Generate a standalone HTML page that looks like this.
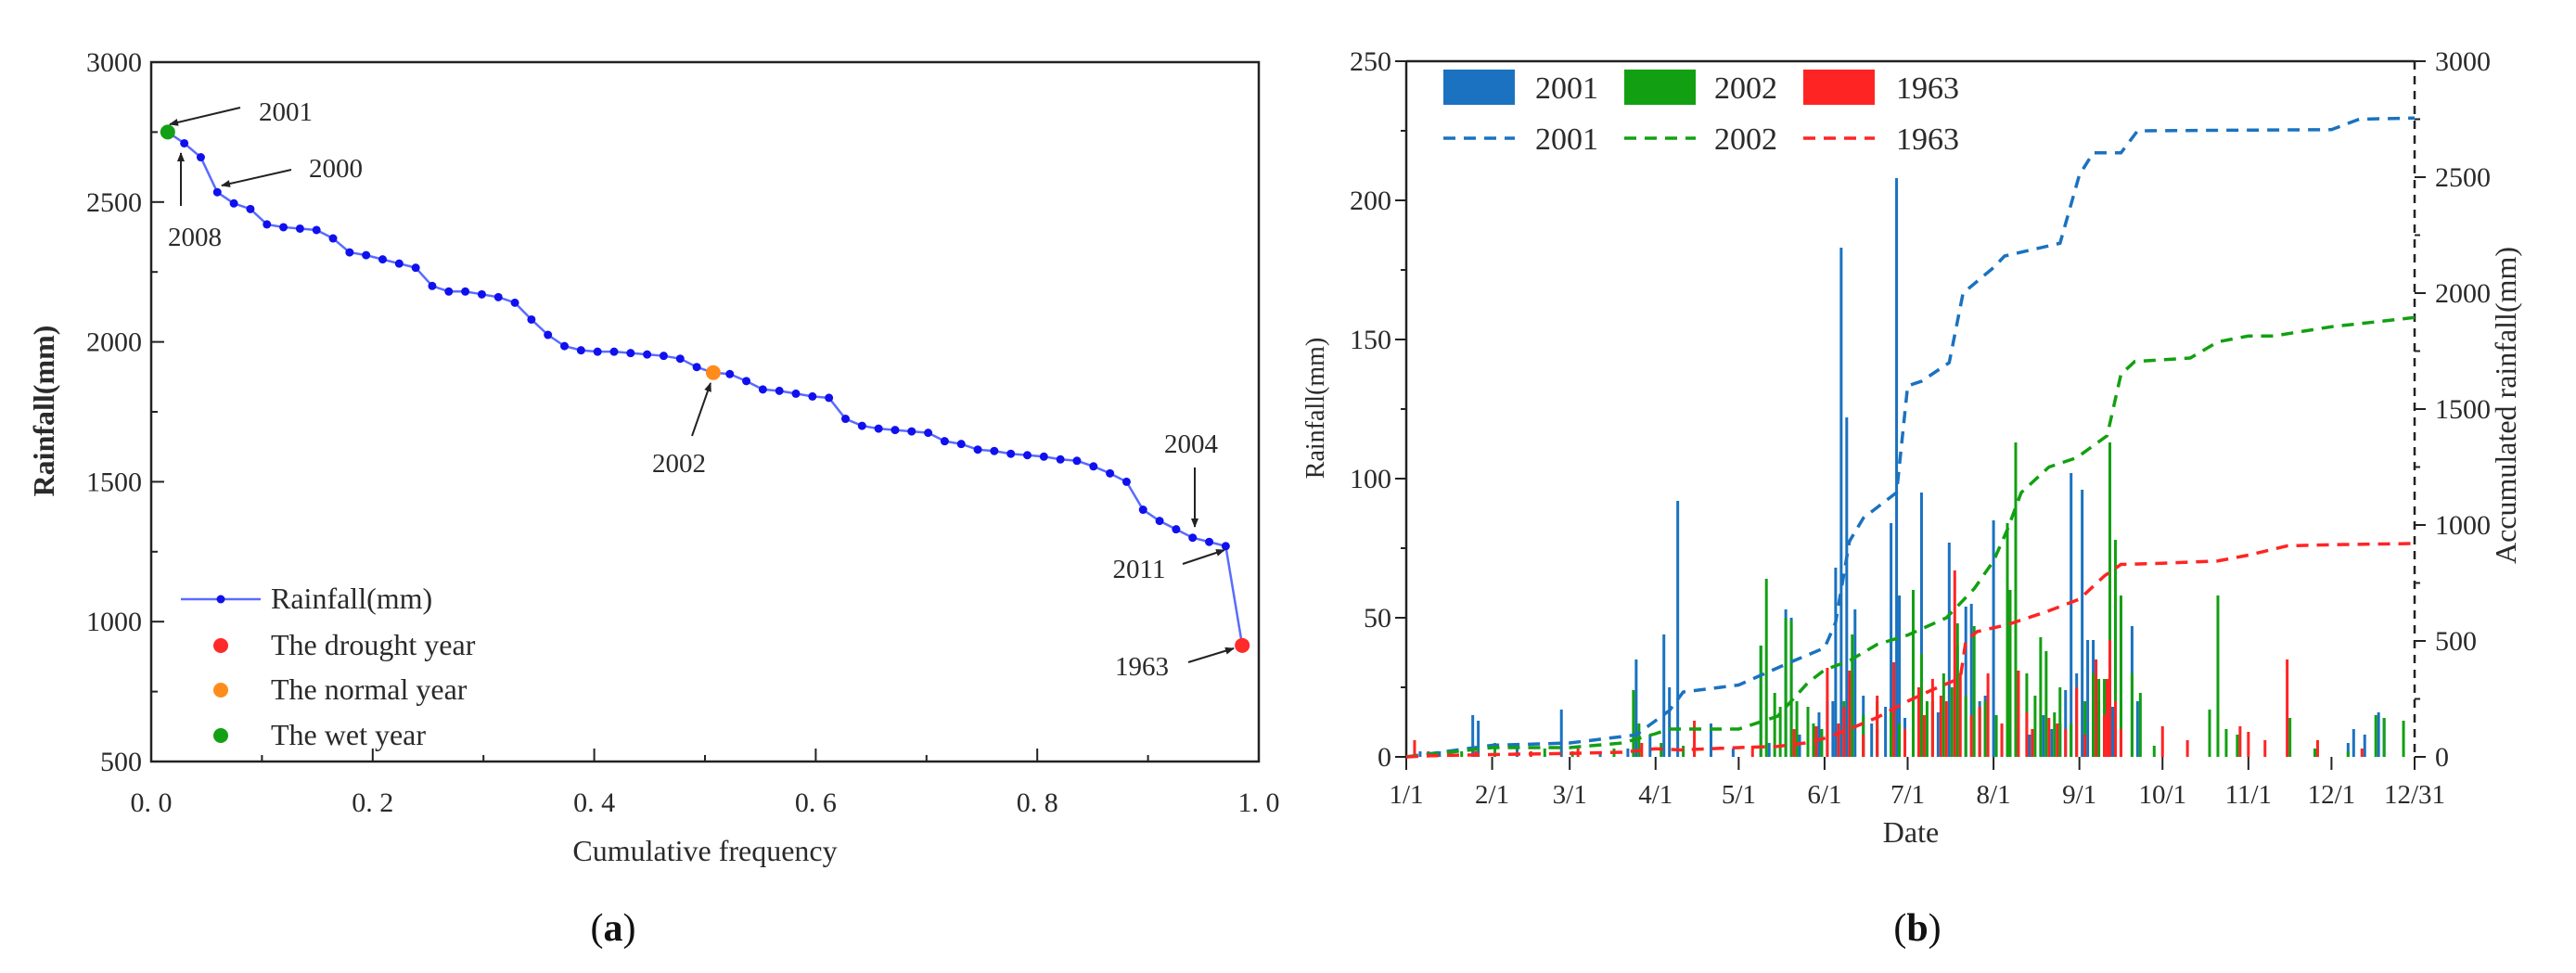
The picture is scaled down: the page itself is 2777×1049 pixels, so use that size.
<!DOCTYPE html>
<html><head><meta charset="utf-8">
<style>
html,body{margin:0;padding:0;background:#fff;}
svg{display:block;font-family:"Liberation Serif",serif;}
</style></head>
<body>
<svg id="root" width="2777" height="1049" viewBox="0 0 2777 1049">
<g id="pa"></g>
<g id="pb"></g>
</svg>
<script>
// ---------- Panel (a) data ----------
const aValues = [2750,2710,2660,2535,2495,2475,2420,2410,2405,2400,2370,2320,2310,2295,2280,2265,2200,2180,2180,2170,2160,2140,2080,2025,1985,1970,1965,1965,1960,1955,1950,1940,1910,1890,1885,1860,1830,1825,1815,1805,1800,1725,1700,1690,1685,1680,1675,1645,1635,1615,1610,1600,1595,1590,1580,1575,1555,1530,1500,1400,1360,1330,1300,1285,1270,915];
const aYTicks = [500,1000,1500,2000,2500,3000];
const aXTicks = [0,0.2,0.4,0.6,0.8,1.0];
const aXTickLabels = ["0. 0","0. 2","0. 4","0. 6","0. 8","1. 0"];
const aSpecial = [{idx:0,color:"#14a014"},{idx:33,color:"#ff8c1a"},{idx:65,color:"#ff2a2a"}];
const aAnnot = [
 {label:"2001",tx:308,ty:130,x1:259,y1:116,x2:183,y2:134},
 {label:"2008",tx:210,ty:265,x1:195,y1:222,x2:195,y2:165},
 {label:"2000",tx:362,ty:191,x1:314,y1:183,x2:239,y2:200},
 {label:"2002",tx:732,ty:509,x1:746,y1:470,x2:766,y2:413},
 {label:"2004",tx:1284,ty:488,x1:1288,y1:504,x2:1288,y2:568},
 {label:"2011",tx:1228,ty:623,x1:1275,y1:608,x2:1320,y2:593},
 {label:"1963",tx:1231,ty:728,x1:1281,y1:714,x2:1330,y2:699}
];

// ---------- Panel (b) data ----------
const monthDays = [0,31,59,90,120,151,181,212,243,273,304,334,364];
const monthLabels = ["1/1","2/1","3/1","4/1","5/1","6/1","7/1","8/1","9/1","10/1","11/1","12/1","12/31"];
const bLeftTicks = [0,50,100,150,200,250];
const bRightTicks = [0,500,1000,1500,2000,2500,3000];
const days2001 = [5,12,24,26,40,56,70,80,83,88,93,95,98,104,110,118,128,131,137,139,142,149,152,155,157,159,160,162,165,170,175,177,178,183,186,190,196,199,202,204,207,212,215,220,225,230,236,240,242,244,246,248,250,255,258,262,264,340,342,346,351,353,154,168,173,180,192,209,218,233,238];
const vals2001 = [2,2,15,13,3,17,2,3,35,8,44,25,92,4,12,3,40,5,53,50,8,16,20,68,183,122,30,53,22,10,84,208,58,42,95,20,77,40,54,55,20,85,12,10,8,15,12,102,30,96,42,42,20,18,20,47,20,5,10,8,16,14,20,12,18,14,16,22,10,10,24];
const days2002 = [20,32,50,60,75,82,84,92,100,128,130,133,137,139,141,145,150,158,161,165,170,178,183,186,190,194,199,202,205,209,213,217,218,220,224,229,231,236,240,245,248,252,254,256,258,262,265,270,290,293,296,300,319,328,340,350,353,360,135,147,175,188,197,207,227,234,250];
const vals2002 = [2,5,3,2,3,24,12,5,4,40,64,23,50,49,20,18,10,20,44,15,20,12,60,37,20,30,48,22,47,20,15,84,60,113,30,43,38,25,12,20,30,28,113,78,58,30,23,4,17,58,10,8,14,3,2,15,14,13,18,12,16,20,25,18,22,16,28];
const days1963 = [3,8,25,45,62,85,104,125,140,148,152,156,160,165,170,176,180,185,190,195,198,200,204,210,215,221,226,232,238,242,245,249,252,254,256,258,273,282,301,304,310,318,329,345,158,187,193,207,224,235,253];
const vals1963 = [6,2,2,2,3,5,13,4,10,11,32,12,31,8,22,34,10,25,28,20,67,30,15,30,12,31,10,14,10,25,8,35,15,42,20,10,11,6,11,9,6,35,6,3,18,15,22,18,16,12,28];
const cumDays2001 = [0,31,59,83,95,100,120,140,151,155,160,165,177,181,186,196,201,212,216,236,243,248,258,264,334,344,364];
const cumVals2001 = [0,50,60,95,200,280,310,415,470,580,930,1030,1140,1600,1620,1700,2000,2110,2160,2215,2510,2605,2605,2700,2705,2750,2755];
const cumDays2002 = [0,31,59,78,90,95,120,134,145,151,160,170,181,195,205,212,217,222,232,242,253,258,263,283,293,304,313,334,353,364];
const cumVals2002 = [0,40,40,60,100,120,120,175,320,375,415,485,525,600,725,845,980,1140,1250,1290,1385,1650,1705,1720,1790,1815,1815,1855,1880,1895];
const cumDays1963 = [0,9,31,59,78,90,99,120,134,144,151,160,170,181,190,200,202,206,217,232,243,252,258,273,293,304,318,334,364];
const cumVals1963 = [0,5,10,15,20,35,30,40,45,60,80,120,170,240,290,340,500,540,570,630,680,780,830,835,845,870,910,915,920];

const NS="http://www.w3.org/2000/svg";
function mk(parent,tag,attrs,text){
  const e=document.createElementNS(NS,tag);
  for(const k in attrs)e.setAttribute(k,attrs[k]);
  if(text!==undefined)e.textContent=text;
  parent.appendChild(e);return e;
}
const TXT="#2a2a2a";

// ================= Panel A =================
const pa=document.getElementById('pa');
const aL=163,aR=1357,aT=67,aB=821;
const ax=v=>aL+(aR-aL)*v;
const ay=v=>aB-(aB-aT)*(v-500)/2500;
let e;
e=mk(pa,'rect',{x:aL,y:aT,width:aR-aL,height:aB-aT,fill:'none',stroke:'#222','stroke-width':2.5});


for(let v=500;v<=3000;v+=250){
  const maj=(v%500===0);
  e=mk(pa,'line',{x1:aL,x2:aL+(maj?14:7),y1:ay(v),y2:ay(v),stroke:'#222','stroke-width':2});
  
  
}
aYTicks.forEach(v=>{
  e=mk(pa,'text',{x:aL-10,y:ay(v)+10,'text-anchor':'end','font-size':30,fill:TXT},String(v));
  
  
});
for(let i=0;i<=10;i++){
  const v=i/10;const maj=(i%2===0);
  e=mk(pa,'line',{x1:ax(v),x2:ax(v),y1:aB,y2:aB-(maj?14:7),stroke:'#222','stroke-width':2});
  
  
}
aXTicks.forEach((v,i)=>{
  e=mk(pa,'text',{x:ax(v),y:875,'text-anchor':'middle','font-size':30,fill:TXT},aXTickLabels[i]);
  
  
});
e=mk(pa,'text',{x:760,y:928,'text-anchor':'middle','font-size':32,fill:TXT},'Cumulative frequency');


e=mk(pa,'text',{x:0,y:0,'text-anchor':'middle','font-size':32,'font-weight':'bold',fill:TXT,transform:'translate(58,443) rotate(-90)'},'Rainfall(mm)');


const n=aValues.length;
const pts=aValues.map((v,i)=>ax((i+1)/(n+1))+','+ay(v)).join(' ');
e=mk(pa,'polyline',{points:pts,fill:'none',stroke:'#5a6bff','stroke-width':2.5});


aValues.forEach((v,i)=>{
  e=mk(pa,'circle',{cx:ax((i+1)/(n+1)),cy:ay(v),r:4.5,fill:'#1010ee'});
  
  
});
aSpecial.forEach(s=>{
  e=mk(pa,'circle',{cx:ax((s.idx+1)/(n+1)),cy:ay(aValues[s.idx]),r:8,fill:s.color});
  
  
});
const defs=mk(document.getElementById('root'),'defs',{});
const mkr=mk(defs,'marker',{id:'arr',markerWidth:10,markerHeight:8,refX:9,refY:4,orient:'auto',markerUnits:'userSpaceOnUse'});
mk(mkr,'path',{d:'M0,0 L10,4 L0,8 Z',fill:'#222'});
aAnnot.forEach(a=>{
  e=mk(pa,'line',{x1:a.x1,y1:a.y1,x2:a.x2,y2:a.y2,stroke:'#222','stroke-width':2,'marker-end':'url(#arr)'});
  
  
  e=mk(pa,'text',{x:a.tx,y:a.ty,'text-anchor':'middle','font-size':29,fill:TXT},a.label);
  
  
});
e=mk(pa,'line',{x1:195,x2:281,y1:646,y2:646,stroke:'#5a6bff','stroke-width':2.5});


e=mk(pa,'circle',{cx:238,cy:646,r:4.5,fill:'#1010ee'});


const legA=[["Rainfall(mm)",646,null],["The drought year",696,"#ff2a2a"],["The normal year",744,"#ff8c1a"],["The wet year",793,"#14a014"]];
legA.forEach(l=>{
  if(l[2]){
    e=mk(pa,'circle',{cx:238,cy:l[1],r:8,fill:l[2]});
    
    
  }
  e=mk(pa,'text',{x:292,y:l[1]+10,'font-size':32,fill:TXT},l[0]);
  
  
});
e=mk(pa,'text',{x:661,y:1014,'text-anchor':'middle','font-size':42,fill:'#111'},'');
e.innerHTML='(<tspan font-weight="bold">a</tspan>)';



// ================= Panel B =================
const pb=document.getElementById('pb');
const bL=1516,bR=2603,bT=66,bB=816;
const bx=d=>bL+(bR-bL)*d/364;
const byL=v=>bB-(bB-bT)*v/250;
const byR=v=>bB-(bB-bT)*v/3000;
e=mk(pb,'line',{x1:bL,x2:bR,y1:bT,y2:bT,stroke:'#222','stroke-width':2.5});


e=mk(pb,'line',{x1:bL,x2:bL,y1:bT,y2:bB,stroke:'#222','stroke-width':2.5});


e=mk(pb,'line',{x1:bR,x2:bR,y1:bT,y2:bB,stroke:'#222','stroke-width':2.5,'stroke-dasharray':'9,7'});


for(let v=0;v<=250;v+=25){
  const maj=v%50===0;
  e=mk(pb,'line',{x1:bL,x2:bL-(maj?12:6),y1:byL(v),y2:byL(v),stroke:'#222','stroke-width':2});
  
  
}
bLeftTicks.forEach(v=>{
  e=mk(pb,'text',{x:bL-16,y:byL(v)+10,'text-anchor':'end','font-size':30,fill:TXT},String(v));
  
  
});
for(let v=0;v<=3000;v+=250){
  const maj=v%500===0;
  e=mk(pb,'line',{x1:bR,x2:bR+(maj?12:6),y1:byR(v),y2:byR(v),stroke:'#222','stroke-width':2});
  
  
}
bRightTicks.forEach(v=>{
  e=mk(pb,'text',{x:bR+22,y:byR(v)+10,'font-size':30,fill:TXT},String(v));
  
  
});
monthDays.forEach((d,i)=>{
  e=mk(pb,'line',{x1:bx(d),x2:bx(d),y1:bB,y2:bB+14,stroke:'#222','stroke-width':2});
  
  
  e=mk(pb,'text',{x:bx(d),y:866,'text-anchor':'middle','font-size':29,fill:TXT},monthLabels[i]);
  
  
});
e=mk(pb,'text',{x:2060,y:908,'text-anchor':'middle','font-size':32,fill:TXT},'Date');


e=mk(pb,'text',{x:0,y:0,'text-anchor':'middle','font-size':28,fill:TXT,transform:'translate(1427,440) rotate(-90)'},'Rainfall(mm)');


e=mk(pb,'text',{x:0,y:0,'text-anchor':'middle','font-size':32,fill:TXT,transform:'translate(2712,437) rotate(-90)'},'Accumulated rainfall(mm)');



const C1='#1a72c0',C2='#12a012',C3='#ff2424';
function bars(days,vals,col,name){
  days.forEach((d,i)=>{
    e=mk(pb,'rect',{x:bx(d)-1.5,y:byL(vals[i]),width:3,height:bB-byL(vals[i]),fill:col});
    
    
  });
}
bars(days2001,vals2001,C1,'bar-2001');
bars(days2002,vals2002,C2,'bar-2002');
bars(days1963,vals1963,C3,'bar-1963');
function cum(days,vals,col,name){
  const p=days.map((d,i)=>bx(d)+','+byR(vals[i])).join(' ');
  e=mk(pb,'polyline',{points:p,fill:'none',stroke:col,'stroke-width':3.5,'stroke-dasharray':'13,9'});
  
  
}
cum(cumDays2001,cumVals2001,C1,'cumulative-line-2001');
cum(cumDays2002,cumVals2002,C2,'cumulative-line-2002');
cum(cumDays1963,cumVals1963,C3,'cumulative-line-1963');
const legB=[["2001",C1,1556,1655],["2002",C2,1751,1848],["1963",C3,1944,2044]];
legB.forEach(l=>{
  e=mk(pb,'rect',{x:l[2],y:75,width:77,height:38,fill:l[1]});
  
  
  e=mk(pb,'text',{x:l[3],y:106,'font-size':34,fill:TXT},l[0]);
  
  
  e=mk(pb,'line',{x1:l[2],x2:l[2]+77,y1:149,y2:149,stroke:l[1],'stroke-width':3.5,'stroke-dasharray':'13,9'});
  
  
  e=mk(pb,'text',{x:l[3],y:161,'font-size':34,fill:TXT},l[0]);
  
  
});
e=mk(pb,'text',{x:2067,y:1014,'text-anchor':'middle','font-size':42,fill:'#111'},'');
e.innerHTML='(<tspan font-weight="bold">b</tspan>)';


</script>
</body></html>
